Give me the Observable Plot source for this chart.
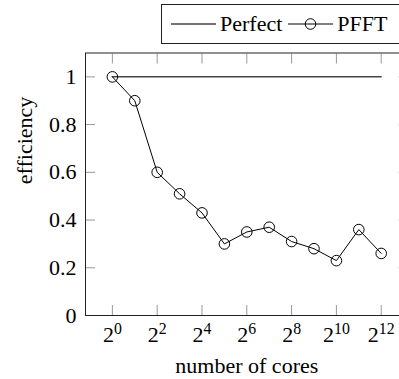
<!DOCTYPE html>
<html>
<head>
<meta charset="utf-8">
<script src="https://cdn.jsdelivr.net/npm/d3@7"></script>
<script src="https://cdn.jsdelivr.net/npm/@observablehq/plot@0.6"></script>
<style>
  html, body { margin: 0; padding: 0; background: #fff; overflow: hidden; }
  #wrap { position: relative; width: 399px; height: 379px; overflow: hidden; }
  #chart { position: absolute; left: 0; top: 0; width: 420px; }
  #chart svg { max-width: none !important; width: 420px !important; height: 379px !important; }
  #chart svg text { font-family: "Liberation Serif", serif !important; }
  #legend { position: absolute; left: 161px; top: 4px; width: 260px; height: 40px; z-index: 2;
    border: 1px solid #222; box-sizing: border-box; display: flex; align-items: center; background: #fff;
    padding-left: 9px; font-family: "Liberation Serif", serif; font-size: 22px; color: #000; white-space: nowrap; }
  #legend svg { display: block; }
  #legend .item { display: flex; align-items: center; margin-right: 6px; }
  #legend .item span { margin-left: 4px; }
</style>
</head>
<body>
<div id="wrap">
  <div id="chart"></div>
  <div id="legend"></div>
</div>
<script>
// ---- data ----
const exponents = [0, 1, 2, 3, 4, 5, 6, 7, 8, 9, 10, 11, 12];           // cores = 2^k
const perfect   = [1, 1, 1, 1, 1, 1, 1, 1, 1, 1, 1, 1, 1];
const pfft      = [1, 0.9, 0.6, 0.51, 0.43, 0.30, 0.35, 0.37, 0.31, 0.28, 0.23, 0.36, 0.26];
const xTicks    = [0, 2, 4, 6, 8, 10, 12];
const yTicks    = [0, 0.2, 0.4, 0.6, 0.8, 1];
const seriesNames = ["Perfect", "PFFT"];
const xLabel = "number of cores";
const yLabel = "efficiency";

const perfectData = exponents.map((k, i) => ({k, v: perfect[i]}));
const pfftData = exponents.map((k, i) => ({k, v: pfft[i]}));

const FONT = "Liberation Serif";
const FS = 22;
const tickColor = "#999";

const chart = Plot.plot({
  width: 420,
  height: 379,
  marginLeft: 85,
  marginRight: 12.4,
  marginTop: 52.5,
  marginBottom: 64,
  style: {fontFamily: FONT, fontSize: FS + "px", background: "transparent", overflow: "visible", maxWidth: "none"},
  x: {type: "linear", domain: [-1.2, 13.2]},
  y: {type: "linear", domain: [0, 1.1]},
  marks: [
    // inward ticks on all four sides
    Plot.axisX(xTicks, {anchor: "bottom", tickSize: 10, dy: -10, fill: "none", stroke: tickColor, label: null}),
    Plot.axisX(xTicks, {anchor: "top", tickSize: 10, dy: 10, fill: "none", stroke: tickColor, label: null}),
    Plot.axisY(yTicks, {anchor: "left", tickSize: 10, dx: 10, fill: "none", stroke: tickColor, label: null}),
    Plot.axisY(yTicks, {anchor: "right", tickSize: 10, dx: -10, fill: "none", stroke: tickColor, label: null}),
    // tick labels
    Plot.axisX(xTicks, {anchor: "bottom", tickSize: 0, tickPadding: 11, tickFormat: d => "2^" + d, label: null, fill: "#000", fontSize: FS, fontFamily: FONT}),
    Plot.axisY(yTicks, {anchor: "left", tickSize: 0, tickPadding: 9, tickFormat: d => String(d), label: null, fill: "#000", fontSize: FS, fontFamily: FONT}),
    // axis titles
    Plot.text([xLabel], {text: d => d, frameAnchor: "bottom", dy: 57, fontSize: FS, fontFamily: FONT, fill: "#000"}),
    Plot.text([yLabel], {text: d => d, frameAnchor: "left", rotate: -90, dx: -61, fontSize: FS, fontFamily: FONT, fill: "#000"}),
    Plot.frame({stroke: "#222", strokeWidth: 1}),
    // series
    Plot.lineY(perfectData, {x: "k", y: "v", stroke: "#444", strokeWidth: 1.5}),
    Plot.lineY(pfftData, {x: "k", y: "v", stroke: "#000", strokeWidth: 1}),
    Plot.dot(pfftData, {x: "k", y: "v", r: 5.3, stroke: "#000", fill: "none", strokeWidth: 1})
  ]
});
document.getElementById("chart").appendChild(chart);

// superscript exponents for x tick labels
d3.select(chart).selectAll('g[aria-label="x-axis tick label"] text').each(function() {
  const t = d3.select(this);
  const s = t.text();
  const parts = s.split("^");
  if (parts.length !== 2) return;
  t.text(null);
  t.append("tspan").text(parts[0]);
  t.append("tspan").attr("dy", "-0.5em").attr("font-size", "0.72em").text(parts[1]);
});

// legend
const legend = d3.select("#legend");
seriesNames.forEach((name, i) => {
  const item = legend.append("div").attr("class", "item");
  const svg = item.append("svg").attr("width", 45).attr("height", 20);
  svg.append("line").attr("x1", 0).attr("x2", 45).attr("y1", 10).attr("y2", 10)
     .attr("stroke", i === 0 ? "#444" : "#000").attr("stroke-width", i === 0 ? 1.5 : 1);
  if (i === 1) {
    svg.append("circle").attr("cx", 22.5).attr("cy", 10).attr("r", 5.3)
       .attr("fill", "none").attr("stroke", "#000");
  }
  item.append("span").text(name);
});
</script>
</body>
</html>
